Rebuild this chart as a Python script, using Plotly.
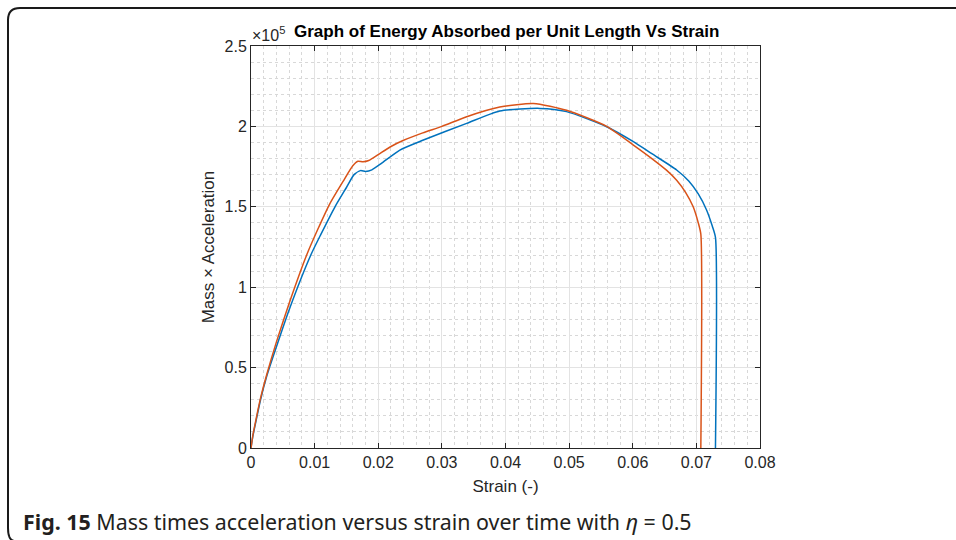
import plotly.graph_objects as go

# Data (values in units of 1e5)
strain_orange = [0, 0.0003, 0.0008, 0.0015, 0.0025, 0.004, 0.006, 0.00875, 0.0105, 0.0124, 0.0145, 0.016, 0.0168,
                 0.0176, 0.0185, 0.020, 0.022, 0.0239, 0.027, 0.030, 0.0339, 0.0391, 0.0444, 0.0496, 0.0559,
                 0.0601, 0.063, 0.0653, 0.0669, 0.0683, 0.0695, 0.0703, 0.0707, 0.0707]
force_orange = [0, 0.08, 0.18, 0.31, 0.46, 0.66, 0.90, 1.20, 1.36, 1.52, 1.66, 1.755, 1.783,
                1.78, 1.788, 1.825, 1.875, 1.912, 1.96, 2.00, 2.06, 2.12, 2.143, 2.10, 2.00,
                1.884, 1.80, 1.728, 1.665, 1.59, 1.50, 1.40, 1.33, 0]

strain_blue = [0, 0.0003, 0.0008, 0.0015, 0.0025, 0.004, 0.006, 0.0094, 0.011, 0.0132, 0.015, 0.0162, 0.0172,
               0.018, 0.019, 0.0205, 0.0234, 0.0271, 0.0339, 0.0391, 0.0454, 0.0496, 0.0559, 0.0601, 0.063,
               0.0669, 0.0688, 0.0703, 0.0716, 0.0725, 0.0730, 0.0730]
force_blue = [0, 0.075, 0.17, 0.30, 0.45, 0.63, 0.86, 1.20, 1.33, 1.50, 1.62, 1.70, 1.725,
              1.72, 1.73, 1.77, 1.853, 1.915, 2.019, 2.096, 2.112, 2.092, 1.998, 1.905, 1.83,
              1.729, 1.66, 1.58, 1.48, 1.38, 1.31, 0]

x_ticks = [0, 0.01, 0.02, 0.03, 0.04, 0.05, 0.06, 0.07, 0.08]
x_ticklabels = ["0", "0.01", "0.02", "0.03", "0.04", "0.05", "0.06", "0.07", "0.08"]
y_ticks = [0, 0.5, 1, 1.5, 2, 2.5]
y_ticklabels = ["0", "0.5", "1", "1.5", "2", "2.5"]

SCALE = 1e5
W, H = 956, 540
L, R, T, B = 251, 760, 46, 448

def px(xp):
    return (xp - L) / (R - L)

def py(yp):
    return (B - yp) / (B - T)

fig = go.Figure()
fig.add_trace(go.Scatter(x=strain_blue, y=[v * SCALE for v in force_blue], mode="lines",
                         line=dict(color="#0072BD", width=1.5, shape="spline", smoothing=0.6), showlegend=False))
fig.add_trace(go.Scatter(x=strain_orange, y=[v * SCALE for v in force_orange], mode="lines",
                         line=dict(color="#D95319", width=1.5, shape="spline", smoothing=0.6), showlegend=False))

FONT = "Liberation Sans, Arial, sans-serif"
tick_font = dict(family=FONT, size=16, color="#262626")

fig.update_xaxes(range=[0, 0.08], tickvals=x_ticks, ticktext=x_ticklabels,
                 showline=True, linecolor="#262626", linewidth=1, mirror="ticks",
                 ticks="inside", ticklen=5, tickcolor="#262626",
                 showgrid=True, gridcolor="#e3e3e3", gridwidth=1, zeroline=False,
                 minor=dict(dtick=0.002, showgrid=True, gridcolor="#d8d8d8", griddash="dot", gridwidth=1, ticks=""),
                 tickfont=tick_font,
                 title=dict(text="Strain (-)", font=dict(family=FONT, size=17, color="#262626"), standoff=9))
fig.update_yaxes(range=[0, 2.5 * SCALE], tickvals=[v * SCALE for v in y_ticks], ticktext=y_ticklabels,
                 showline=True, linecolor="#262626", linewidth=1, mirror="ticks",
                 ticks="inside", ticklen=5, tickcolor="#262626",
                 showgrid=True, gridcolor="#e3e3e3", gridwidth=1, zeroline=False,
                 minor=dict(dtick=0.1 * SCALE, showgrid=True, gridcolor="#d8d8d8", griddash="dot", gridwidth=1, ticks=""),
                 tickfont=tick_font,
                 title=dict(text="Mass × Acceleration", font=dict(family=FONT, size=17, color="#262626"), standoff=5))

annotations = [
    dict(text="<b>Graph of Energy Absorbed per Unit Length Vs Strain</b>", xref="paper", yref="paper",
         x=px(506), y=py(31), xanchor="center", yanchor="middle", showarrow=False,
         font=dict(family=FONT, size=17, color="#000000")),
    dict(text="×10<sup>5</sup>", xref="paper", yref="paper", x=px(250), y=py(34), xanchor="left", yanchor="middle",
         showarrow=False, font=dict(family=FONT, size=16, color="#262626")),
    dict(text="<b>Fig. 15</b> Mass times acceleration versus strain over time with <i>η</i> = 0.5", xref="paper", yref="paper",
         x=px(21), y=py(521), xanchor="left", yanchor="middle", showarrow=False,
         font=dict(family="Noto Sans, sans-serif", size=21.4, color="#231f20")),
]

border_path = (f"M {px(14)} {py(541)} Q {px(8)} {py(540)} {px(8)} {py(528)} "
               f"L {px(8)} {py(20)} Q {px(8)} {py(8)} {px(20)} {py(8)} L {px(960)} {py(8)}")
shapes = [dict(type="path", path=border_path, xref="paper", yref="paper",
               line=dict(color="#1a1a1a", width=2))]

fig.update_layout(width=W, height=H, margin=dict(l=L, r=W - R, t=T, b=H - B, pad=0),
                  paper_bgcolor="white", plot_bgcolor="white",
                  annotations=annotations, shapes=shapes, showlegend=False)

fig.write_html("out.html")
